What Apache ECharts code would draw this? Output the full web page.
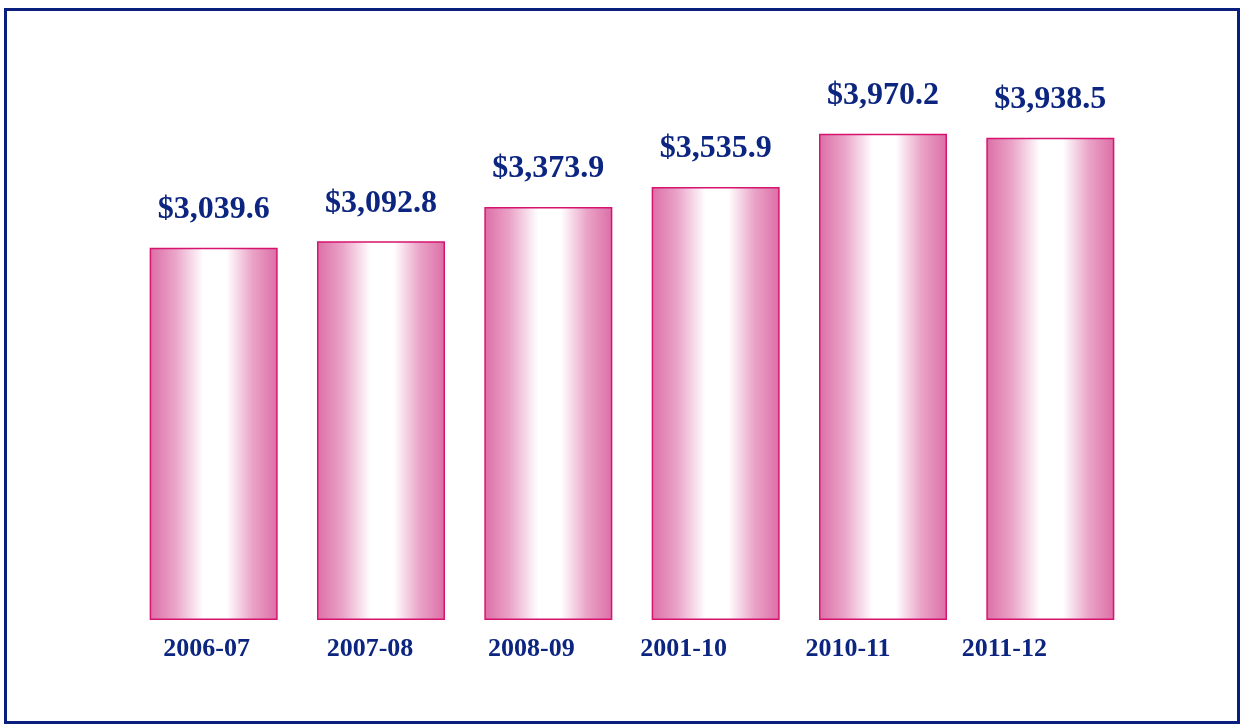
<!DOCTYPE html>
<html>
<head>
<meta charset="utf-8">
<script src="https://cdn.jsdelivr.net/npm/echarts@6/dist/echarts.min.js"></script>
<style>
  html, body { margin: 0; padding: 0; background: #fff; }
  #chart { width: 1242px; height: 725px; }
</style>
</head>
<body>
<div id="chart"></div>
<script>
// fiscal years and amounts (millions of dollars)
const years = ['2006-07', '2007-08', '2008-09', '2001-10', '2010-11', '2011-12'];
const amounts = [3039.6, 3092.8, 3373.9, 3535.9, 3970.2, 3938.5];

// the year labels drift left of their bars in the original
const labelShift = [-7, -11, -17, -32, -35, -46];

const navy = '#0c2580';

const chart = echarts.init(document.getElementById('chart'));

const barFill = new echarts.graphic.LinearGradient(0, 0, 1, 0, [
    { offset: 0, color: '#dc6ea6' },
    { offset: 0.2, color: '#eaa4c8' },
    { offset: 0.42, color: '#ffffff' },
    { offset: 0.6, color: '#ffffff' },
    { offset: 0.8, color: '#eaa4c8' },
    { offset: 1, color: '#dc6ea6' }
]);

const option = {
    backgroundColor: '#ffffff',
    animation: false,
    graphic: [{
        type: 'rect',
        shape: { x: 5.5, y: 9.5, width: 1233, height: 713 },
        style: { fill: 'none', stroke: '#0a1f7d', lineWidth: 3 }
    }],
    grid: { left: 130, right: 108, top: 69, bottom: 105 },
    xAxis: {
        type: 'category',
        data: years.map((y, i) => ({
            value: y,
            textStyle: { padding: [0, -2 * labelShift[i], 0, 0] }
        })),
        axisLine: { show: false },
        axisTick: { show: false },
        axisLabel: {
            color: navy,
            fontFamily: 'Liberation Serif',
            fontWeight: 'bold',
            fontSize: 26,
            margin: 16
        }
    },
    yAxis: {
        type: 'value',
        min: 0,
        max: 4500,
        show: false,
        splitLine: { show: false }
    },
    series: [{
        type: 'bar',
        data: amounts,
        barWidth: 128,
        itemStyle: {
            color: barFill,
            borderColor: '#d6136e',
            borderWidth: 1.5
        },
        label: {
            show: true,
            position: 'top',
            distance: 22,
            color: navy,
            fontFamily: 'Liberation Serif',
            fontWeight: 'bold',
            fontSize: 32,
            formatter: p => '$' + p.value.toLocaleString('en-US', { minimumFractionDigits: 1, maximumFractionDigits: 1 })
        }
    }]
};

chart.setOption(option);
</script>
</body>
</html>
